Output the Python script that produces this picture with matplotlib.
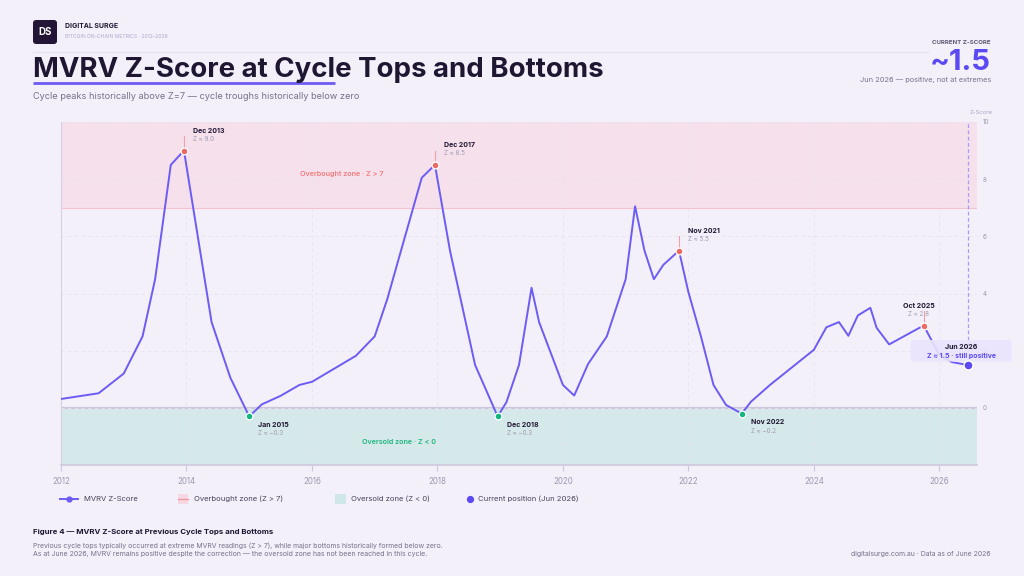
import matplotlib
matplotlib.use("Agg")
import matplotlib.pyplot as plt
from matplotlib.patches import FancyBboxPatch, Rectangle
from matplotlib.transforms import Affine2D

# ---------------- data ----------------
dates = [2012.00, 2012.60, 2013.00, 2013.30, 2013.50, 2013.75, 2013.96, 2014.40, 2014.70,
         2015.00, 2015.20, 2015.50, 2015.80, 2016.00, 2016.70, 2017.00, 2017.20, 2017.40,
         2017.75, 2017.96, 2018.20, 2018.60, 2018.96, 2019.10, 2019.30, 2019.50, 2019.62,
         2020.00, 2020.18, 2020.40, 2020.70, 2021.00, 2021.15, 2021.30, 2021.45, 2021.60,
         2021.85, 2022.00, 2022.20, 2022.40, 2022.60, 2022.85, 2023.00, 2023.30, 2024.00,
         2024.20, 2024.40, 2024.55, 2024.70, 2024.90, 2025.00, 2025.20, 2025.75, 2026.00,
         2026.20, 2026.45]
zscore = [0.31, 0.51, 1.20, 2.50, 4.50, 8.50, 9.00, 3.00, 1.05,
          -0.30, 0.12, 0.42, 0.80, 0.91, 1.82, 2.50, 3.80, 5.35,
          8.05, 8.50, 5.50, 1.50, -0.30, 0.20, 1.50, 4.20, 3.00,
          0.80, 0.43, 1.53, 2.50, 4.50, 7.05, 5.50, 4.50, 5.00,
          5.50, 4.05, 2.50, 0.80, 0.10, -0.20, 0.22, 0.80, 2.03,
          2.82, 3.00, 2.52, 3.23, 3.50, 2.80, 2.22, 2.88, 1.85,
          1.60, 1.50]

peak_dates = [2013.96, 2017.96, 2021.85, 2025.75]
peak_labels = ["Dec 2013", "Dec 2017", "Nov 2021", "Oct 2025"]
peak_values = ["9.0", "8.5", "5.5", "2.8"]
trough_dates = [2015.00, 2018.96, 2022.85]
trough_labels = ["Jan 2015", "Dec 2018", "Nov 2022"]
trough_values = ["\u22120.3", "\u22120.3", "\u22120.2"]
current_date = 2026.45
current_label = "Jun 2026"

overbought = 7
oversold = 0
x_ticks = [2012, 2014, 2016, 2018, 2020, 2022, 2024, 2026]
y_ticks = [0, 2, 4, 6, 8, 10]

# ---------------- style ----------------
BG = "#f3f0fa"
DARK = "#1f1632"
GRAY = "#77718a"
TICK = "#9e98ae"
LINE = "#6c5cf5"
RED = "#ec6a64"
GREEN = "#15b57e"
PURPLE = "#5b4af3"

plt.rcParams["font.family"] = ["Inter", "DejaVu Sans"]

fig = plt.figure(figsize=(10.24, 5.76), dpi=100)
fig.patch.set_facecolor(BG)


def fit(t, w):
    r = fig.canvas.get_renderer()
    bb = t.get_window_extent(renderer=r)
    t.set_fontsize(t.get_fontsize() * w / bb.width)


ax = fig.add_axes([61 / 1024, (576 - 465) / 576, (977 - 61) / 1024, (465 - 122) / 576])
ax.set_facecolor("none")
ax.set_zorder(1)
ax.set_xlim(2012, 2026.6)
ax.set_ylim(-2, 10)

ov = fig.add_axes([0, 0, 1, 1])
ov.set_xlim(0, 1024)
ov.set_ylim(576, 0)
ov.axis("off")
ov.set_zorder(0)

# zones
ax.axhspan(overbought, 10, color="#f5e0ec", zorder=0, lw=0)
ax.axhspan(-2, oversold, color="#d6e9ea", zorder=0, lw=0)
ax.axhline(overbought, color="#f4c3cd", lw=0.8, zorder=1)
ax.axhline(oversold, color="#cdc6da", lw=1.6, zorder=1)

ax.set_xticks(x_ticks)
ax.set_xticklabels([str(x) for x in x_ticks])
ax.set_yticks(y_ticks)
ax.set_yticklabels([str(y) for y in y_ticks])
ax.grid(True, ls=(0, (4, 4)), color="#e7e2f1", lw=0.6)
ax.yaxis.tick_right()
ax.tick_params(axis="y", length=0, pad=4, labelsize=4.6, labelcolor=TICK)
ax.tick_params(axis="x", length=4, width=0.8, color="#cfc8dc", pad=4.5,
               labelsize=5.7, labelcolor=TICK)
for s in ["top", "right"]:
    ax.spines[s].set_visible(False)
ax.spines["left"].set_color("#d6d0e3")
ax.spines["left"].set_linewidth(0.8)
ax.spines["bottom"].set_color("#cfc8dc")
ax.spines["bottom"].set_linewidth(1.2)

ax.annotate("Z-Score", xy=(1, 1), xycoords="axes fraction", xytext=(4, 9.5),
            textcoords="offset pixels", ha="center", va="center", fontsize=4.3,
            color="#aaa3c0")

# main line
ax.plot(dates, zscore, color=LINE, lw=1.4, zorder=3, solid_joinstyle="round")

zmap = dict(zip(dates, zscore))

# peaks
for d, lab, val in zip(peak_dates, peak_labels, peak_values):
    z = zmap[d]
    ax.plot([d, d], [z, z + 0.5], color="#f3a0a5", lw=0.8, zorder=4)
    ax.scatter([d], [z], s=24, color=RED, edgecolor="white", lw=0.9, zorder=5)
    if lab == "Oct 2025":
        dx, ha = -5, "center"
    else:
        dx, ha = 9, "left"
    ax.annotate(lab, (d, z), xytext=(dx, 20), textcoords="offset pixels", ha=ha,
                va="center", fontsize=5, fontweight="bold", color=DARK, zorder=6)
    ax.annotate("Z \u2248 " + val, (d, z), xytext=(dx, 12), textcoords="offset pixels",
                ha=ha, va="center", fontsize=4.5, color="#a19bb2", zorder=6)

# troughs
for d, lab, val in zip(trough_dates, trough_labels, trough_values):
    z = zmap[d]
    ax.scatter([d], [z], s=24, color=GREEN, edgecolor="white", lw=0.9, zorder=5)
    ax.annotate(lab, (d, z), xytext=(9, -8.5), textcoords="offset pixels", ha="left",
                va="center", fontsize=5, fontweight="bold", color=DARK, zorder=6)
    ax.annotate("Z \u2248 " + val, (d, z), xytext=(9, -17), textcoords="offset pixels",
                ha="left", va="center", fontsize=4.5, color="#a19bb2", zorder=6)

# current position
cz = zmap[current_date]
ax.plot([current_date, current_date], [cz, 10], ls=(0, (3, 2)), color="#a99cf7",
        lw=0.9, zorder=2, clip_on=False)
ax.scatter([current_date], [cz], s=42, color=PURPLE, edgecolor="white", lw=1.0, zorder=7)
px, py = ax.transData.transform((current_date, cz))
box = FancyBboxPatch((-57, 3.3), 101, 21.7, boxstyle="round,pad=0,rounding_size=3",
                     transform=Affine2D().translate(px, py), facecolor="#e9e4fd",
                     edgecolor="none", alpha=0.9, zorder=6, clip_on=False)
ax.add_patch(box)
ax.annotate(current_label, (current_date, cz), xytext=(-6, 17.7), textcoords="offset pixels",
            ha="center", va="center", fontsize=5, fontweight="bold", color=DARK, zorder=8)
ax.annotate("Z \u2248 1.5 \u00b7 still positive", (current_date, cz), xytext=(-6, 9.3),
            textcoords="offset pixels", ha="center", va="center", fontsize=5,
            fontweight="bold", color=PURPLE, zorder=8)

# zone labels
ax.text(2016.48, 8.19, "Overbought zone \u00b7 Z > 7", ha="center", va="center",
        fontsize=5.2, fontweight="semibold", color="#f07d7d", zorder=4)
ax.text(2017.39, -1.18, "Oversold zone \u00b7 Z < 0", ha="center", va="center",
        fontsize=5.2, fontweight="semibold", color="#1fb57d", zorder=4)

# ---------------- header ----------------
ov.add_patch(FancyBboxPatch((33, 20), 24, 24, boxstyle="round,pad=0,rounding_size=3",
                            facecolor="#231536", edgecolor="none"))
ov.text(45, 32.3, "DS", ha="center", va="center", color="white", fontsize=7,
        fontweight="bold")
t = ov.text(64.7, 25.7, "DIGITAL SURGE", ha="left", va="center", color=DARK,
            fontsize=5.5, fontweight="bold")
fit(t, 52.7)
t = ov.text(64.7, 37, "BITCOIN ON-CHAIN METRICS \u00b7 2012\u20132026", ha="left",
            va="center", color="#b0a8d2", fontsize=3.8)
fit(t, 104)
ov.plot([33, 928], [52, 52], color="#e6e1f0", lw=0.8)
t = ov.text(33, 77.3, "MVRV Z-Score at Cycle Tops and Bottoms", ha="left",
            va="baseline", color=DARK, fontsize=20, fontweight="bold")
fit(t, 572)
ov.plot([33, 335], [83, 83], color=LINE, lw=2, solid_capstyle="butt")
t = ov.text(33, 96.7, "Cycle peaks historically above Z=7 \u2014 cycle troughs historically below zero",
            ha="left", va="center", color=GRAY, fontsize=6.3)
fit(t, 326)

t = ov.text(991, 42.7, "CURRENT Z-SCORE", ha="right", va="center", color="#5f5975",
            fontsize=4.5, fontweight="bold")
fit(t, 58)
t = ov.text(991, 70, "~1.5", ha="right", va="baseline", color=PURPLE, fontsize=22,
            fontweight="bold")
fit(t, 61)
t = ov.text(991, 80, "Jun 2026 \u2014 positive, not at extremes", ha="right", va="center",
            color=GRAY, fontsize=5.5)
fit(t, 131)

# ---------------- legend ----------------
LY = 499
ov.plot([60, 77.5], [LY, LY], color=LINE, lw=1.4)
ov.plot([68.75], [LY], "o", ms=3.5, color=LINE)
ov.text(83.6, LY, "MVRV Z-Score", ha="left", va="center", color="#4a445c", fontsize=5.5)
ov.add_patch(Rectangle((177.5, LY - 5), 10, 10, facecolor="#f6d8e2", edgecolor="none"))
ov.plot([177.5, 187.5], [LY, LY], color="#ef9aa0", lw=1)
ov.text(193.6, LY, "Overbought zone (Z > 7)", ha="left", va="center", color="#4a445c",
        fontsize=5.5)
ov.add_patch(Rectangle((335, LY - 5), 11, 10, facecolor="#cfe7e6", edgecolor="none"))
ov.text(350.7, LY, "Oversold zone (Z < 0)", ha="left", va="center", color="#4a445c",
        fontsize=5.5)
ov.plot([470], [LY], "o", ms=4.2, color=PURPLE)
ov.text(477.5, LY, "Current position (Jun 2026)", ha="left", va="center", color="#4a445c",
        fontsize=5.5)

# ---------------- footer ----------------
t = ov.text(33, 532, "Figure 4 \u2014 MVRV Z-Score at Previous Cycle Tops and Bottoms",
            ha="left", va="center", color=DARK, fontsize=6, fontweight="bold")
fit(t, 242)
t = ov.text(33, 545.7, "Previous cycle tops typically occurred at extreme MVRV readings (Z > 7), "
            "while major bottoms historically formed below zero.", ha="left", va="center",
            color=GRAY, fontsize=5)
fit(t, 411)
t = ov.text(33, 554.3, "As at June 2026, MVRV remains positive despite the correction \u2014 "
            "the oversold zone has not been reached in this cycle.", ha="left",
            va="center", color=GRAY, fontsize=5)
fit(t, 395)
t = ov.text(991, 554.3, "digitalsurge.com.au \u00b7 Data as of June 2026", ha="right",
            va="center", color=GRAY, fontsize=5)
fit(t, 140)

fig.savefig("out.png", dpi=100, facecolor=BG)
